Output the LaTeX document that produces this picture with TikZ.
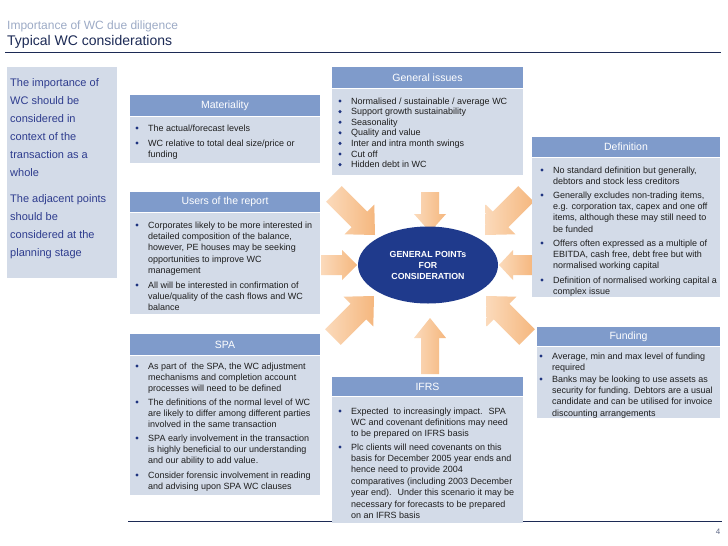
\documentclass[tikz,border=0pt]{standalone}
\usepackage{fontspec}
\setmainfont{Liberation Sans}
\usetikzlibrary{shapes.geometric}
\definecolor{hdr}{HTML}{7F9BCB}
\definecolor{bodyc}{HTML}{D3DBE8}
\definecolor{navy}{HTML}{1C2A55}
\definecolor{subc}{HTML}{9DABC6}
\definecolor{lefttxt}{HTML}{2E3C8E}
\definecolor{bulc}{HTML}{1F3480}
\definecolor{txt}{HTML}{1E1E1E}
\definecolor{ell}{HTML}{1F3A8C}
\definecolor{arrH}{HTML}{F5B77E}
\definecolor{arrT}{HTML}{FBDABB}
\newcommand\bitem[5]{% name, bullet x, line centre y, width, text
  \fill[bulc] (#2,#3) circle (1.7pt);
  \node[btext] (#1) at (#2+11,#3+3) {\parbox[t]{#4pt}{\raggedright #5}};}
\newcommand\panel[7]{% name, x1, y1, x2, yh, y2, title
  \fill[hdr] (#2,#3) rectangle (#4,#5);
  \fill[bodyc] (#2,#5+1) rectangle (#4,#6);
  \node[hdrtext] (#1) at ({(#2+#4)/2},{(#3+#5)/2}) {#7};}
\newcommand\blockarrow[7]{% tip x, tip y, angle, length, head length, head half, body half
  \begin{scope}[shift={(#1,#2)}, rotate=#3]
    \shade[left color=arrT, right color=arrH] (0,0) -- (-#5,#6) -- (-#5,#7) -- (-#4,#7)
      -- (-#4,-#7) -- (-#5,-#7) -- (-#5,-#6) -- cycle;
  \end{scope}}
\begin{document}
\begin{tikzpicture}[x=1pt,y=-1pt,
  btext/.style={anchor=base west, inner sep=0, text=txt, font=\fontsize{9}{11.4}\selectfont},
  hdrtext/.style={inner sep=0, text=white, font=\fontsize{10.5}{12}\selectfont},
  lefttext/.style={anchor=base west, inner sep=0, text=lefttxt, font=\fontsize{11}{18}\selectfont}]
\useasboundingbox (0,0) rectangle (728,546);
\fill[white] (0,0) rectangle (728,546);

% titles
\node[anchor=base west, inner sep=0, text=subc, font=\fontsize{12}{14}\selectfont] (sub) at (7,29) {Importance of WC due diligence};
\node[anchor=base west, inner sep=0, text=navy, font=\fontsize{14}{16}\selectfont] (ttl) at (7,45) {Typical WC considerations};
\draw[navy, line width=1pt] (5,52) -- (721,52);

% bottom rule and page number
\draw[navy, line width=1pt] (128,521) -- (722,521);
\node[anchor=base, inner sep=0, text=navy!70, font=\fontsize{8}{9}\selectfont] (pg) at (718,534) {4};

% left panel
\fill[bodyc] (7,67) rectangle (117,278);
\node[lefttext] (lp1) at (10,86) {\parbox[t]{105pt}{\raggedright The importance of\\WC should be\\considered in\\context of the\\transaction as a\\whole}};
\node[lefttext] (lp2) at (10,202) {\parbox[t]{105pt}{\raggedright The adjacent points\\should be\\considered at the\\planning stage}};

% arrows
\blockarrow{375}{235}{-45}{58}{22}{21}{11}
\blockarrow{430}{232}{-90}{40}{18}{16}{9}
\blockarrow{485}{235}{-135}{58}{22}{21}{11}
\blockarrow{357}{265}{0}{36}{15}{15}{10}
\blockarrow{499}{265}{180}{34}{14}{15}{10}
\blockarrow{374}{296}{45}{58}{22}{21}{11}
\blockarrow{430}{318}{90}{56}{20}{16}{9}
\blockarrow{486}{296}{135}{58}{22}{21}{11}

% centre
\node[ellipse, fill=ell, minimum width=140pt, minimum height=77pt, inner sep=0,
  text=white, font=\bfseries\fontsize{8.8}{11}\selectfont, align=center] (gp) at (428,265)
  {GENERAL POINTs\\FOR\\CONSIDERATION};

% Materiality
\panel{mat}{130}{95}{320}{116}{163}{Materiality}
\bitem{m1}{137}{128}{200}{The actual/forecast levels}
\bitem{m2}{137}{143}{200}{WC relative to total deal size/price or\\funding}

% General issues
\panel{gen}{332}{67}{523}{88}{175}{General issues}
\bitem{g1}{340}{101}{200}{Normalised / sustainable / average WC}
\bitem{g2}{340}{111.6}{200}{Support growth sustainability}
\bitem{g3}{340}{122.2}{200}{Seasonality}
\bitem{g4}{340}{132.8}{200}{Quality and value}
\bitem{g5}{340}{143.4}{200}{Inter and intra month swings}
\bitem{g6}{340}{154}{200}{Cut off}
\bitem{g7}{340}{164.6}{200}{Hidden debt in WC}

% Definition
\panel{def}{532}{137}{720}{157}{297}{Definition}
\bitem{d1}{542}{170}{200}{No standard definition but generally,\\debtors and stock less creditors}
\bitem{d2}{542}{195}{200}{Generally excludes non-trading items,\\e.g. corporation tax, capex and one off\\items, although these may still need to\\be funded}
\bitem{d3}{542}{243}{200}{Offers often expressed as a multiple of\\EBITDA, cash free, debt free but with\\normalised working capital}
\bitem{d4}{542}{280}{200}{Definition of normalised working capital a\\complex issue}

% Users of the report
\panel{usr}{130}{192}{320}{212}{314}{Users of the report}
\bitem{u1}{137}{225}{200}{Corporates likely to be more interested in\\detailed composition of the balance,\\however, PE houses may be seeking\\opportunities to improve WC\\management}
\bitem{u2}{137}{285}{200}{All will be interested in confirmation of\\value/quality of the cash flows and WC\\balance}

% Funding
\panel{fun}{537}{327}{720}{346}{418}{Funding}
\bitem{f1}{541}{356}{200}{Average, min and max level of funding\\required}
\bitem{f2}{541}{379}{200}{Banks may be looking to use assets as\\security for funding.  Debtors are a usual\\candidate and can be utilised for invoice\\discounting arrangements}

% SPA
\panel{spa}{130}{334}{320}{355}{495}{SPA}
\bitem{s1}{137}{366}{200}{As part of \ the SPA, the WC adjustment\\mechanisms and completion account\\processes will need to be defined}
\bitem{s2}{137}{402}{200}{The definitions of the normal level of WC\\are likely to differ among different parties\\involved in the same transaction}
\bitem{s3}{137}{438}{200}{SPA early involvement in the transaction\\is highly beneficial to our understanding\\and our ability to add value.}
\bitem{s4}{137}{475}{200}{Consider forensic involvement in reading\\and advising upon SPA WC clauses}

% IFRS
\panel{ifrs}{332}{377}{523}{396}{523}{IFRS}
\bitem{i1}{340}{411}{200}{Expected \ to increasingly impact. \ SPA\\WC and covenant definitions may need\\to be prepared on IFRS basis}
\bitem{i2}{340}{447}{200}{Plc clients will need covenants on this\\basis for December 2005 year ends and\\hence need to provide 2004\\comparatives (including 2003 December\\year end). \ Under this scenario it may be\\necessary for forecasts to be prepared\\on an IFRS basis}
\end{tikzpicture}
\end{document}
